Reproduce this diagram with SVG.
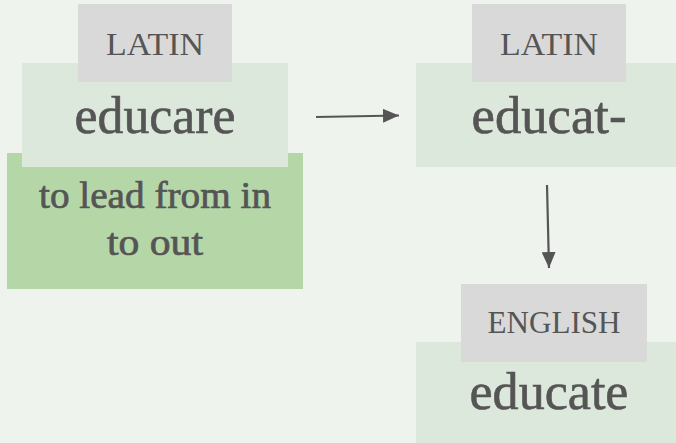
<svg xmlns="http://www.w3.org/2000/svg" width="676" height="443" viewBox="0 0 676 443">
<style>
.lang{fill:#d9d9d9}
.word{fill:#dce8dc}
.def{fill:#b5d7a8}
text{font-family:"Liberation Serif","Times New Roman",serif;fill:#555555;text-anchor:middle}
.lt{font-size:31px}
.wt{font-size:52px;stroke:#555555;stroke-width:0.6}
.dt{font-size:37px;stroke:#555555;stroke-width:0.7}
.conn{stroke:#555555;stroke-width:2.2;fill:none}
</style>
<defs>
<marker id="ah" viewBox="0 0 16 14" refX="16" refY="7" markerWidth="16" markerHeight="14" markerUnits="userSpaceOnUse" orient="auto">
<path d="M0,0 L16,7 L0,14 Z" fill="#555555"/>
</marker>
</defs>
<rect width="676" height="443" fill="#eef3ee"/>
<g id="educare">
<rect class="def" x="7" y="153" width="296" height="136"/>
<rect class="word" x="22" y="63" width="266" height="104"/>
<rect class="lang" x="78" y="4" width="154" height="78"/>
<text class="lt" x="155" y="55" textLength="98" lengthAdjust="spacingAndGlyphs">LATIN</text>
<text class="wt" x="155" y="133" textLength="161" lengthAdjust="spacingAndGlyphs">educare</text>
<text class="dt" x="155" y="208" textLength="232" lengthAdjust="spacingAndGlyphs">to lead from in</text>
<text class="dt" x="155" y="255" textLength="96" lengthAdjust="spacingAndGlyphs">to out</text>
</g>
<g id="educat">
<rect class="word" x="416" y="63" width="262" height="104"/>
<rect class="lang" x="472" y="4" width="154" height="78"/>
<text class="lt" x="549" y="55" textLength="98" lengthAdjust="spacingAndGlyphs">LATIN</text>
<text class="wt" x="549" y="133" textLength="155" lengthAdjust="spacingAndGlyphs">educat-</text>
</g>
<g id="educate">
<rect class="word" x="416" y="342" width="262" height="103"/>
<rect class="lang" x="461" y="284" width="186" height="78"/>
<text class="lt" x="554" y="333" textLength="133" lengthAdjust="spacingAndGlyphs">ENGLISH</text>
<text class="wt" x="549" y="409" textLength="159" lengthAdjust="spacingAndGlyphs">educate</text>
</g>
<g id="connectors">
<path class="conn" d="M316,117 L399,115.5" marker-end="url(#ah)"/>
<path class="conn" d="M547,185 L549,268" marker-end="url(#ah)"/>
</g>
</svg>
